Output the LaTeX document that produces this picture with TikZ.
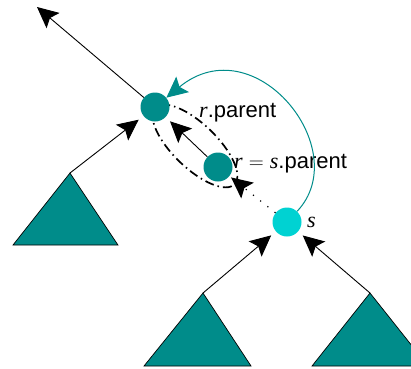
\documentclass[tikz,border=0pt]{standalone}
\usepackage{fontspec}
\setmainfont{Liberation Sans}
\newfontfamily\timesfont{Liberation Serif}
\newcommand{\varname}[1]{{\timesfont\itshape #1}}
\usetikzlibrary{arrows.meta,positioning,shapes.geometric}
\definecolor{treeteal}{RGB}{0,140,138}
\definecolor{nodecyan}{RGB}{0,210,210}

\begin{document}
\begin{tikzpicture}
      [x=1pt, y=-1pt, font=\fontsize{22}{26}\selectfont,
      >={Stealth[length=21pt,width=20pt,inset=4pt]},
      % STYLES
      % The vertex style is used to draw the nodes of the tree
      vertex/.style={circle, fill=treeteal, inner sep=0pt, minimum size=29pt},
      % The current style marks the node s
      current/.style={vertex, fill=nodecyan},
      % The subtree style is used to draw the triangles
      subtree/.style={draw=black, fill=treeteal, line width=0.7pt},
      % The tag style is used for the texts beside the nodes
      tag/.style={inner sep=0pt, anchor=base west},
      % The pathLoop style is used for the dash-dot loop round r and its parent
      pathLoop/.style={ellipse, draw, line width=1.7pt, inner sep=0pt,
        dash pattern=on 9pt off 4pt on 1.5pt off 4pt,
        minimum width=110pt, minimum height=44pt, rotate=-44},
      % The link style is used for the parent pointers
      link/.style={->, line width=0.9pt, shorten >=6pt}]

      \clip (0,0) rectangle (411,368);

      % Draw the subtrees
      \coordinate (leftTree) at (70,173);
      \coordinate (lowLeftTree) at (203,293);
      \coordinate (lowRightTree) at (370,293);
      \draw [subtree] (leftTree) -- (118,245) -- (13,245) -- cycle;
      \draw [subtree] (lowLeftTree) -- (251,366) -- (144,366) -- cycle;
      \draw [subtree] (lowRightTree) -- (428,366) -- (312,366) -- cycle;

      % Draw the loop and the nodes
      \node [pathLoop] (loop) at (195,146) {};
      \node [vertex] (rParent) at (155,107) {};
      \node [vertex] (r) at (218,167) {};
      \node [current] (s) at (287,222) {};
      \coordinate (up) at (37,7);

      %%%%%%%%%%%%%%%
      % Texts
      \node [tag] (tag-rParent) at (199,117) {\varname{r}.parent};
      \node [tag] (tag-r) at (234,168) {\varname{r} $=$ \varname{s}.parent};
      \node [tag] (tag-s) at (307,227) {\varname{s}};

      %%%%%%%%%%%%%%%%

      % Draw the links between nodes
      \draw [->, line width=0.9pt] (rParent) -- (up);
      \path [link]
        (leftTree) edge (rParent)
        (r) edge (rParent)
        (lowLeftTree) edge (s)
        (lowRightTree) edge (s);
      \draw [->, line width=1.2pt, dash pattern=on 1.2pt off 8pt, shorten >=2pt] (s) -- (r);
      \draw [->, treeteal, line width=1pt] (s) .. controls (355,150) and (255,25) .. (rParent);

    \end{tikzpicture}
\end{document}
